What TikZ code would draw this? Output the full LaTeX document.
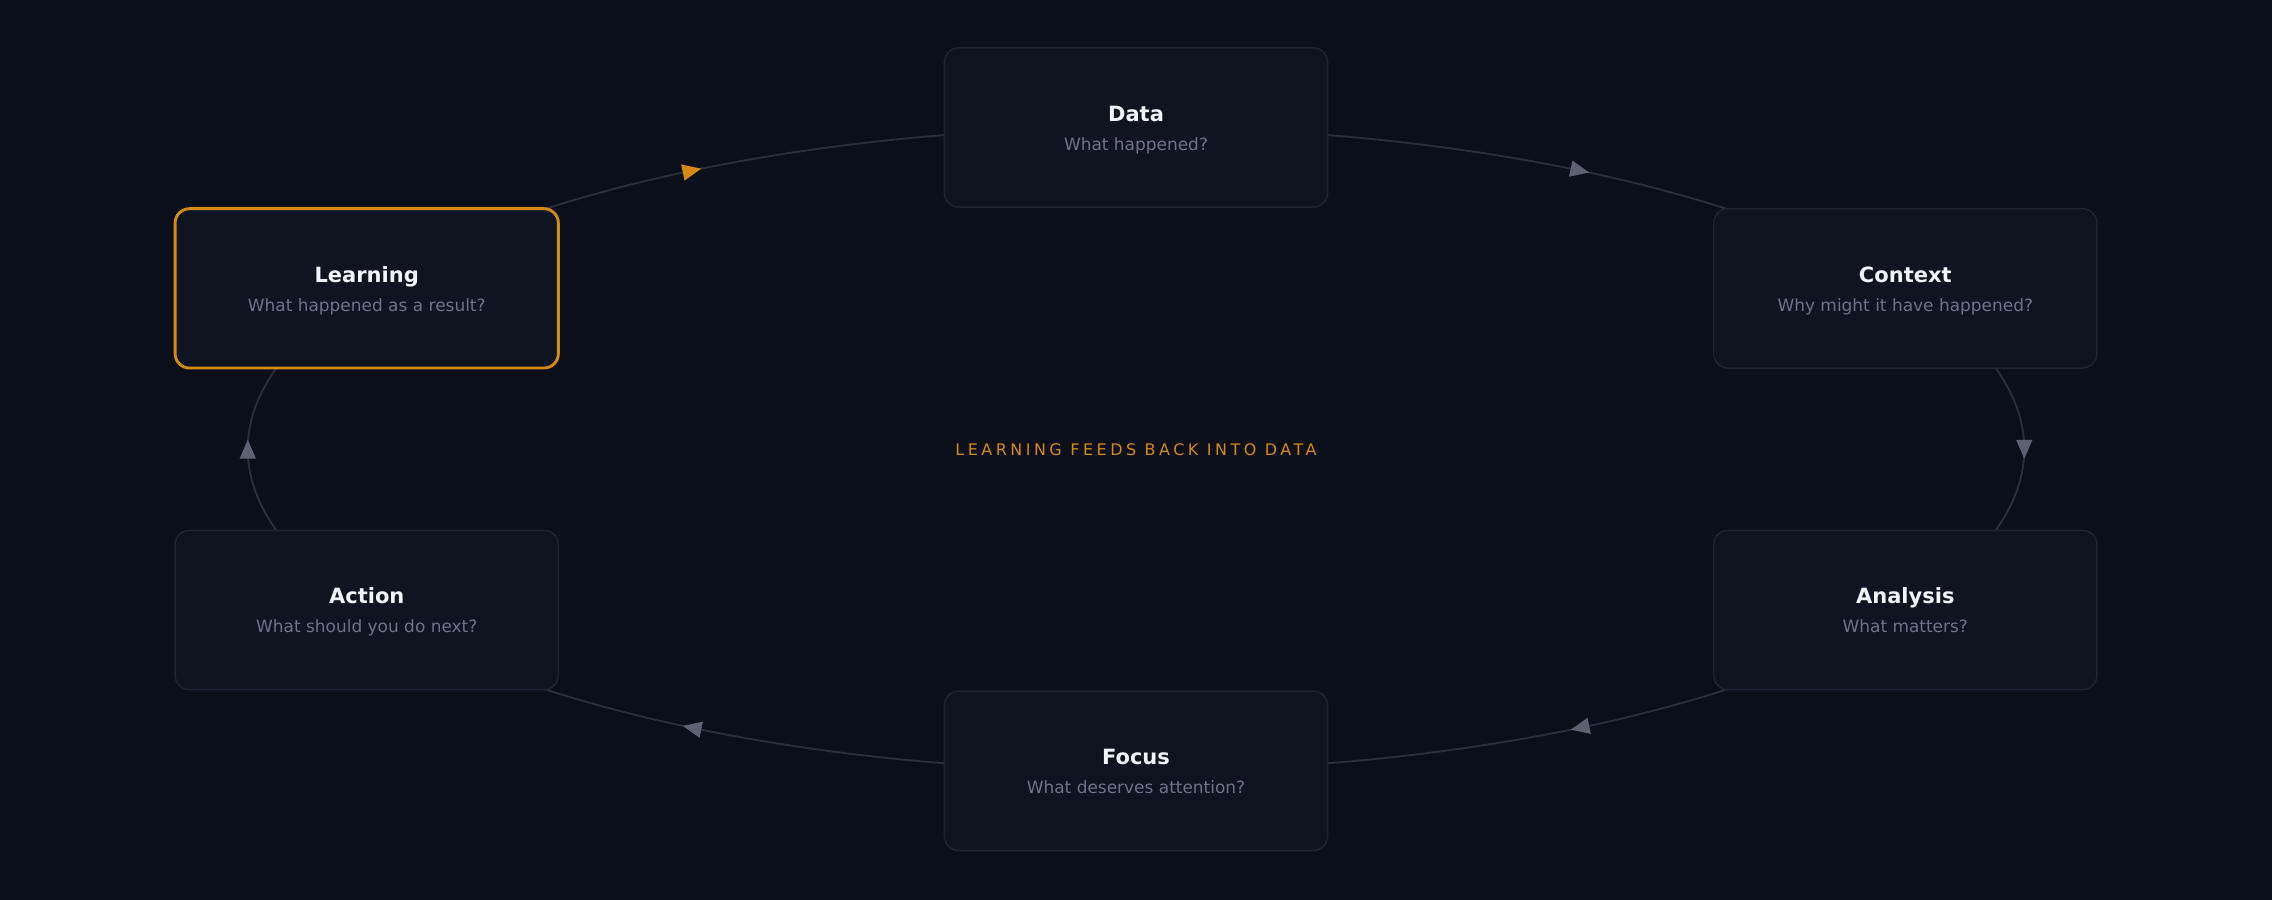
\documentclass[tikz,border=0pt]{standalone}
\usepackage{fontspec}
\setmainfont{DejaVu Sans}
\newfontfamily\trackfont[LetterSpace=22]{DejaVu Sans}
\usetikzlibrary{arrows.meta,decorations.markings}
\definecolor{bgc}{HTML}{0B0F1A}
\definecolor{boxfill}{HTML}{0E1420}
\definecolor{boxline}{HTML}{1E2532}
\definecolor{titlec}{HTML}{F2F5F9}
\definecolor{subc}{HTML}{6B7488}
\definecolor{accent}{HTML}{D58A14}
\definecolor{arcc}{HTML}{2A2F3C}
\definecolor{tipc}{HTML}{5D6272}
\pgfdeclarelayer{bglayer}
\pgfdeclarelayer{edgelayer}
\pgfsetlayers{bglayer,edgelayer,main}
\newcommand{\boxtext}[2]{{\fontsize{14.5}{20}\selectfont\bfseries\color{titlec}\rule{0pt}{14pt}\vphantom{Lg}#1}\\{\fontsize{11.7}{20}\selectfont\color{subc}\vphantom{Wp}#2}}
\tikzset{
  stage/.style={rectangle, rounded corners=10pt, minimum width=264.5pt, minimum height=110pt,
    fill=boxfill, draw=boxline, line width=1pt, align=center, inner sep=0pt,
    font=\fontsize{11.7}{20}\selectfont},
  stagehl/.style={stage, draw=accent, line width=2pt},
  flow/.style={draw=arcc, line width=1.3pt},
  tipmark/.style 2 args={postaction={decorate}, decoration={markings,
    mark=at position #1 with {\pgftransformxshift{6.5pt}\arrow[#2]{Triangle[length=13pt,width=11pt]}}}},
  centerlabel/.style={font=\fontsize{11}{13}\selectfont\trackfont, text=accent}
}
\begin{document}
\begin{tikzpicture}[x=1pt,y=1pt]
\begin{pgfonlayer}{bglayer}
\fill[bgc] (0,0) rectangle (1568,-621);
\end{pgfonlayer}
\useasboundingbox (0,0) rectangle (1568,-621);

\node[stage]   (data)     at (784,-88)      {\boxtext{Data}{What happened?}};
\node[stage]   (context)  at (1314.9,-199)  {\boxtext{Context}{Why might it have happened?}};
\node[stage]   (analysis) at (1314.9,-421)  {\boxtext{Analysis}{What matters?}};
\node[stage]   (focus)    at (784,-532)     {\boxtext{Focus}{What deserves attention?}};
\node[stage]   (action)   at (253.1,-421)   {\boxtext{Action}{What should you do next?}};
\node[stagehl] (learning) at (253.1,-199)   {\boxtext{Learning}{What happened as a result?}};

\node[centerlabel] (loop) at (784,-310.5) {LEARNING FEEDS BACK INTO DATA};

\begin{pgfonlayer}{edgelayer}
\draw[flow, tipmark={0.5624}{tipc}] (data.center) arc[start angle=90, end angle=30, x radius=613pt, y radius=222pt];
\draw[flow, tipmark={0.5}{tipc}] (context.center) arc[start angle=30, end angle=-30, x radius=613pt, y radius=222pt];
\draw[flow, tipmark={0.4376}{tipc}] (analysis.center) arc[start angle=-30, end angle=-90, x radius=613pt, y radius=222pt];
\draw[flow, tipmark={0.5624}{tipc}] (focus.center) arc[start angle=270, end angle=210, x radius=613pt, y radius=222pt];
\draw[flow, tipmark={0.5}{tipc}] (action.center) arc[start angle=210, end angle=150, x radius=613pt, y radius=222pt];
\draw[flow, tipmark={0.4376}{accent}] (learning.center) arc[start angle=150, end angle=90, x radius=613pt, y radius=222pt];
\end{pgfonlayer}
\end{tikzpicture}
\end{document}
